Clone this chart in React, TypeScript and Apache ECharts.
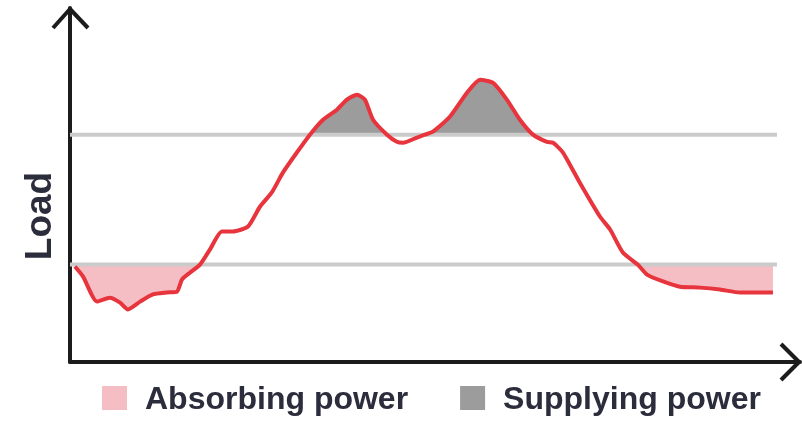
import React, { useEffect, useRef } from "react";
import * as echarts from "echarts";

const time = [0, 0.28, 0.76, 1.2, 1.55, 1.82, 2.24, 2.68, 3.16, 3.51, 3.68, 3.95, 4.3, 4.64, 5.05, 5.43, 5.95, 6.36, 6.77, 7.15, 7.63, 8.08, 8.53, 9.01, 9.35, 9.7, 9.97, 10.25, 10.73, 11.07, 11.28, 11.76, 12.03, 12.31, 12.89, 13.48, 13.93, 14.37, 14.85, 15.3, 15.75, 16.23, 16.44, 16.78, 17.36, 18.05, 18.4, 18.84, 19.35, 19.67, 20.22, 20.8, 21.49, 22.18, 22.87, 24];
const load = [29.4, 26.3, 18.6, 19.8, 18.3, 16.2, 18.6, 20.8, 21.4, 21.7, 25.4, 27.5, 30, 34.6, 40.2, 40.2, 41.7, 47.8, 52.2, 58.3, 64.5, 70, 74.6, 77.7, 80.8, 82.3, 80.8, 74.6, 70, 67.8, 67.5, 69.1, 70, 70.9, 75.5, 82.9, 86.9, 86, 80.8, 74.6, 70, 67.8, 67.5, 64.5, 55.2, 44.8, 40.8, 33.7, 30, 26.9, 24.8, 23.2, 22.9, 22.3, 21.4, 21.4];
const lowerLevel = 30;
const upperLevel = 70;
const levelSpan = [-0.17, 24.14];
const legendNames = ["Absorbing power", "Supplying power"];
const yAxisName = "Load";

const App: React.FC = () => {
  const ref = useRef<HTMLDivElement>(null);
  useEffect(() => {
    if (!ref.current) return;
    const chart = echarts.init(ref.current, null, { renderer: "svg" });
    const absorb = time.map((t, i) => [t, Math.min(load[i], lowerLevel)]);
    const supply = time.map((t, i) => [t, Math.max(load[i], upperLevel)]);
    const axisColor = "#1c1c1c";
    const smooth = 0.2;
    chart.setOption({
      animation: false,
      grid: { left: 70, right: 2, top: 8, bottom: 59 },
      xAxis: {
        type: "value",
        min: -0.17,
        max: 24.93,
        axisLine: { show: true, onZero: false, lineStyle: { color: axisColor, width: 4 } },
        axisTick: { show: false },
        axisLabel: { show: false },
        splitLine: { show: false },
      },
      yAxis: {
        type: "value",
        min: 0,
        max: 109,
        axisLine: { show: true, onZero: false, lineStyle: { color: axisColor, width: 4 } },
        axisTick: { show: false },
        axisLabel: { show: false },
        splitLine: { show: false },
      },
      legend: {
        data: [
          { name: legendNames[0], icon: "rect" },
          { name: legendNames[1], icon: "rect" },
        ],
        selectedMode: false,
        left: 102,
        top: 382,
        padding: 0,
        itemWidth: 25,
        itemHeight: 24,
        itemGap: 52,
        textStyle: {
          fontFamily: "Liberation Sans",
          fontWeight: "bold",
          fontSize: 32,
          color: "#2b2d3c",
          padding: [0, 0, 0, 13],
        },
      },
      series: [
        {
          type: "line",
          name: legendNames[0],
          data: absorb,
          symbol: "none",
          smooth,
          color: "#f4bec4",
          lineStyle: { opacity: 0, width: 0 },
          areaStyle: { color: "#f4bec4", opacity: 1, origin: lowerLevel },
          silent: true,
        },
        {
          type: "line",
          name: legendNames[1],
          data: supply,
          symbol: "none",
          smooth,
          color: "#9c9c9c",
          lineStyle: { opacity: 0, width: 0 },
          areaStyle: { color: "#9c9c9c", opacity: 1, origin: upperLevel },
          silent: true,
        },
        {
          type: "line",
          name: "lower",
          data: [[levelSpan[0], lowerLevel], [levelSpan[1], lowerLevel]],
          symbol: "none",
          lineStyle: { color: "#cbcbcb", width: 4 },
          silent: true,
        },
        {
          type: "line",
          name: "upper",
          data: [[levelSpan[0], upperLevel], [levelSpan[1], upperLevel]],
          symbol: "none",
          lineStyle: { color: "#cbcbcb", width: 4 },
          silent: true,
        },
        {
          type: "line",
          name: "load",
          data: time.map((t, i) => [t, load[i]]),
          symbol: "none",
          smooth,
          lineStyle: { color: "#e8343c", width: 4 },
          silent: true,
        },
      ],
      graphic: [
        { type: "line", z: 100, shape: { x1: 53, y1: 28, x2: 70, y2: 9 }, style: { stroke: axisColor, lineWidth: 4 } },
        { type: "line", z: 100, shape: { x1: 70, y1: 9, x2: 88, y2: 28 }, style: { stroke: axisColor, lineWidth: 4 } },
        { type: "line", z: 100, shape: { x1: 781, y1: 344, x2: 799, y2: 362 }, style: { stroke: axisColor, lineWidth: 4 } },
        { type: "line", z: 100, shape: { x1: 799, y1: 362, x2: 781, y2: 380 }, style: { stroke: axisColor, lineWidth: 4 } },
        {
          type: "text",
          x: 38,
          y: 216,
          rotation: Math.PI / 2,
          style: {
            text: yAxisName,
            font: "bold 37px 'Liberation Sans'",
            fill: "#2b2d3c",
            align: "center",
            verticalAlign: "middle",
          },
        },
      ],
    });
    return () => chart.dispose();
  }, []);
  return (
    <div
      ref={ref}
      style={{ position: "fixed", left: 0, top: 0, width: 802, height: 421 }}
    />
  );
};

export default App;
